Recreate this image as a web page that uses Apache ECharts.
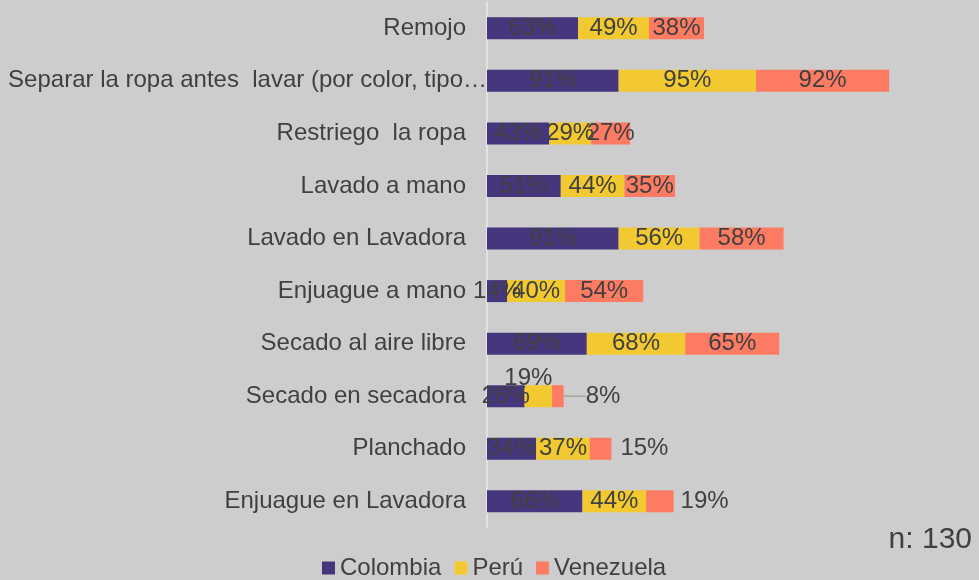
<!DOCTYPE html>
<html><head><meta charset="utf-8">
<script src="https://cdn.jsdelivr.net/npm/echarts@6/dist/echarts.min.js"></script>
<style>html,body{margin:0;padding:0;background:#cdcdcd}#c{width:979px;height:580px}</style>
</head><body><div id="c"></div>
<script>
const categories = ["Remojo","Separar la ropa antes  lavar (por color, tipo…","Restriego  la ropa","Lavado a mano","Lavado en Lavadora","Enjuague a mano","Secado al aire libre","Secado en secadora","Planchado","Enjuague en Lavadora"];
const colombia = [63,91,43,51,91,14,69,26,34,66];
const peru = [49,95,29,44,56,40,68,19,37,44];
const venezuela = [38,92,27,35,58,54,65,8,15,19];
const seriesNames = ["Colombia","Perú","Venezuela"];
const sampleNote = "n: 130";

const txt = '#404040';
const F = 'Liberation Sans, Arial, sans-serif';
const baseLabel = {show:true, position:'inside', color:txt, fontSize:24, fontFamily:F, formatter: p => p.value + '%'};

function wrap(vals, special){
  return vals.map((v,i)=> special && special[i] ? Object.assign({value:v}, special[i]) : v);
}

const chart = echarts.init(document.getElementById('c'));
chart.setOption({
  backgroundColor:'#cdcdcd',
  animation:false,
  grid:{left:487, top:2, width:434, height:525.6, containLabel:false},
  xAxis:{type:'value', min:0, max:300, show:false},
  yAxis:{type:'category', data:categories, inverse:true,
    axisLine:{show:true, lineStyle:{color:'#e2e2e2', width:2}},
    axisTick:{show:false},
    axisLabel:{margin:0, color:txt, fontSize:24, fontFamily:F,
      formatter:(v,i)=> i===1 ? '{l|'+v+'}' : '{n|'+v+'}',
      rich:{n:{fontSize:24, fontFamily:F, color:txt, padding:[0,21,0,0]}, l:{fontSize:24, fontFamily:F, color:txt, padding:[0,0,0,0]}}}
  },
  legend:{data:seriesNames, top:551, left:317, icon:'rect', itemWidth:13, itemHeight:13, itemGap:13,
    textStyle:{color:txt, fontSize:24, fontFamily:F}},
  graphic:[{type:'text', right:7, top:525, style:{text:sampleNote, fill:txt, font:'30px '+F}}],
  series:[
    {name:seriesNames[0], type:'bar', stack:'a', barWidth:22, data:colombia, itemStyle:{color:'#46367e'}, label:baseLabel},
    {name:seriesNames[1], type:'bar', stack:'a', barWidth:22, itemStyle:{color:'#f2c930'}, label:baseLabel,
      data:wrap(peru,{7:{label:{position:'inside', offset:[-10,-18]}}})},
    {name:seriesNames[2], type:'bar', stack:'a', barWidth:22, itemStyle:{color:'#fd7b62'}, label:baseLabel,
      labelLine:{show:false},
      labelLayout:(p)=> p.dataIndex===7 ? {dx:14} : {},
      data:wrap(venezuela,{
        7:{label:{position:'right', distance:8}, labelLine:{show:true, lineStyle:{color:'#a6a6a6', width:1.5}}},
        8:{label:{position:'right', distance:9}},
        9:{label:{position:'right', distance:7}}})}
  ]
});
</script></body></html>
